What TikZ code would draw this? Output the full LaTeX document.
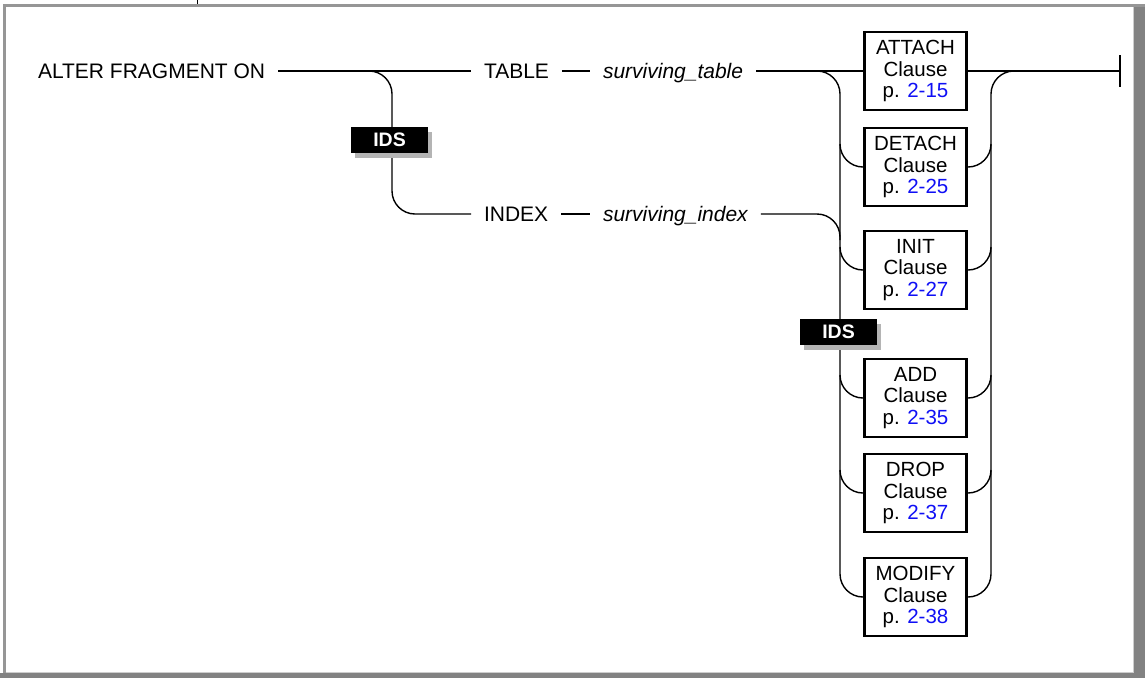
\documentclass[tikz,border=0pt]{standalone}
\usepackage{fontspec}
\setmainfont{Liberation Sans}
\usetikzlibrary{shadows}
\definecolor{linkblue}{RGB}{15,15,245}
\definecolor{framelight}{RGB}{150,150,150}
\definecolor{framedark}{RGB}{130,130,130}
\definecolor{frameedge}{RGB}{205,205,205}
\definecolor{shadowgray}{RGB}{180,180,180}
\begin{document}
\begin{tikzpicture}[x=1pt,y=-1pt,
  rail/.style={line width=1.4pt, rounded corners=23pt},
  word/.style={inner sep=0pt, outer xsep=13pt, outer ysep=0pt,
    text height=14pt, text depth=0pt, anchor=west,
    font=\fontsize{21}{25}\selectfont},
  clause/.style={draw, line width=2.6pt, minimum width=102.5pt,
    minimum height=78pt, inner sep=0pt, align=center,
    font=\fontsize{20.5}{21.5}\selectfont},
  idsbox/.style={fill=black, text=white, inner sep=0pt,
    minimum width=77pt, minimum height=26pt,
    font=\fontsize{19.5}{20}\selectfont\bfseries,
    copy shadow={shadow xshift=4pt, shadow yshift=-5pt, fill=shadowgray, draw=none}}
]
\useasboundingbox (0,0) rectangle (1145,678);

% frame
\fill[framelight] (3,4) rectangle (1145,7);
\fill[framelight] (3,4) rectangle (6,673);
\fill[frameedge] (1133,7) rectangle (1134,673);
\fill[frameedge] (6,672) rectangle (1134,673);
\fill[framedark] (1134,7) rectangle (1145,678);
\fill[framedark] (0,673) rectangle (1145,678);
\draw[line width=1pt] (197,0) -- (197,4);

% keywords and variables
\node[word] (alter)  at (25,71)  {ALTER FRAGMENT ON};
\node[word] (table)  at (471,71) {TABLE};
\node[word] (stable) at (590,71) {\itshape surviving\_table};
\node[word] (index)  at (471,214) {INDEX};
\node[word] (sindex) at (590,214) {\itshape surviving\_index};

% clause boxes
\node[clause] (attach) at (915.5,71)  {ATTACH\\Clause\\p. \textcolor{linkblue}{2-15}};
\node[clause] (detach) at (915.5,167) {DETACH\\Clause\\p. \textcolor{linkblue}{2-25}};
\node[clause] (init)   at (915.5,270) {INIT\\Clause\\p. \textcolor{linkblue}{2-27}};
\node[clause] (add)    at (915.5,398) {ADD\\Clause\\p. \textcolor{linkblue}{2-35}};
\node[clause] (drop)   at (915.5,493) {DROP\\Clause\\p. \textcolor{linkblue}{2-37}};
\node[clause] (modify) at (915.5,597) {MODIFY\\Clause\\p. \textcolor{linkblue}{2-38}};

\coordinate (fork)  at (369,71);
\coordinate (lfork) at (817,71);
\coordinate (end)   at (1120,71);

% first choice: TABLE or INDEX
\draw[rail] (alter.east) -- (table.west);
\draw[rail] (fork) -- (392,71) -- (392,214) -- (index.west);
\draw[rail] (table.east) -- (stable.west);
\draw[rail] (index.east) -- (sindex.west);
\draw[rail] (stable.east) -- (attach.west);
\draw[rail] (sindex.east) -- (840,214) -- (840,240);

% left rail into the clauses
\draw[rail] (lfork) -- (840,71) -- (840,597) -- (modify.west);
\foreach \b/\y in {detach/167, init/270, add/398, drop/493}
  \draw[rail] (840,\y-23) -- (840,\y) -- (\b.west);

% right rail out of the clauses
\draw[rail] (modify.east) -- (991,597) -- (991,71) -- (1014,71);
\foreach \b/\y in {detach/167, init/270, add/398, drop/493}
  \draw[rail] (\b.east) -- (991,\y) -- (991,\y-23);

% end of statement
\draw[rail] (attach.east) -- (end);
\draw[line width=1.4pt] (1120,55) -- (1120,87);

% product markers
\node[idsbox] (ids1) at (389.5,140)  {IDS};
\node[idsbox] (ids2) at (838.5,331.5) {IDS};
\end{tikzpicture}
\end{document}
